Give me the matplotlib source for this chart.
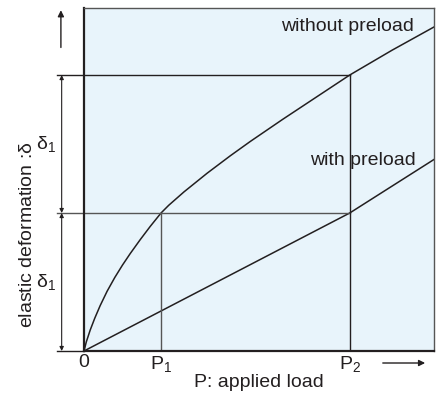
import numpy as np
import matplotlib
matplotlib.use('Agg')
import matplotlib.pyplot as plt

plt.rcParams['font.family'] = ['Liberation Sans', 'DejaVu Sans']
plt.rcParams['mathtext.fontset'] = 'custom'
plt.rcParams['mathtext.rm'] = 'Liberation Sans'
plt.rcParams['mathtext.it'] = 'Liberation Sans'

# load in units of P1, deformation in units of delta1
P1 = 1.0
P2 = 3.45
delta1 = 1.0

# deformation without preload (curved)
load_free = [0.0, 0.03, 0.08, 0.14, 0.21, 0.30, 0.40, 0.50, 0.60, 0.73, 0.86, 1.0,
             1.1, 1.3, 1.6, 1.9, 2.16, 2.58, 3.0, 3.45, 4.0, 4.55]
defl_free = [0.0, 0.066, 0.151, 0.238, 0.329, 0.433, 0.533, 0.623, 0.706, 0.807, 0.903, 1.0,
             1.056, 1.154, 1.289, 1.415, 1.519, 1.679, 1.834, 2.0, 2.18, 2.35]
# deformation with preload (straight up to P2, then steeper)
load_pre = [0.0, 3.45, 4.55]
defl_pre = [0.0, 1.0, 1.39]

x_ticks = [0.0, P1, P2]
x_ticklabels = ['0', r'$\mathrm{P_1}$', r'$\mathrm{P_2}$']

ink = '#231f20'
grey = '#555555'
fs = 14

fig = plt.figure(figsize=(4.43, 3.96), dpi=100)
ax = fig.add_axes([84/443, 45/396, 350/443, 343/396])
ax.set_facecolor('#e8f4fb')
ax.set_xlim(0, 4.545)
ax.set_ylim(0, 2.486)

for side in ['top', 'right']:
    ax.spines[side].set_color(grey)
    ax.spines[side].set_linewidth(1.0)
for side in ['left', 'bottom']:
    ax.spines[side].set_color(ink)
    ax.spines[side].set_linewidth(1.6)

ax.plot(load_free, defl_free, color=ink, lw=1.1)
ax.plot(load_pre, defl_pre, color=ink, lw=1.1)

# guide lines
ax.plot([-0.35, P2], [delta1, delta1], color=grey, lw=1.0, clip_on=False)
ax.plot([-0.35, P2], [2 * delta1, 2 * delta1], color=ink, lw=1.0, clip_on=False)
ax.plot([-0.35, 0], [0, 0], color=ink, lw=1.0, clip_on=False)
ax.plot([P1, P1], [0, delta1], color=grey, lw=1.0)
ax.plot([P2, P2], [0, 2 * delta1], color=ink, lw=1.0)

# dimension arrows on the left
xd = -0.29
for y0, y1 in [(0, delta1), (delta1, 2 * delta1)]:
    ax.annotate('', xy=(xd, y1), xytext=(xd, y0), annotation_clip=False,
                arrowprops=dict(arrowstyle='<|-|>', color=ink, lw=0.8,
                                mutation_scale=6, shrinkA=0, shrinkB=0))
    ax.text(xd - 0.08, (y0 + y1) / 2, r'$\mathrm{\delta_1}$', fontsize=fs,
            color=ink, ha='right', va='center')

# axis direction arrows
ax.annotate('', xy=(-0.3, 2.47), xytext=(-0.3, 2.2), annotation_clip=False,
            arrowprops=dict(arrowstyle='-|>', color=ink, lw=1.0,
                            mutation_scale=9, shrinkA=0, shrinkB=0))
ax.annotate('', xy=(4.43, -0.087), xytext=(3.88, -0.087), annotation_clip=False,
            arrowprops=dict(arrowstyle='-|>', color=ink, lw=1.0,
                            mutation_scale=9, shrinkA=0, shrinkB=0))

ax.set_xticks(x_ticks)
ax.set_xticklabels(x_ticklabels, fontsize=fs, color=ink)
ax.set_yticks([])
ax.tick_params(axis='x', length=0, pad=2)

ax.set_xlabel('P: applied load', fontsize=fs, color=ink, labelpad=0)
fig.text(28/443, 1 - 235/396, r'elastic deformation :$\mathrm{\delta}$',
         rotation=90, fontsize=fs, color=ink, ha='center', va='center')

ax.text(4.29, 2.35, 'without preload', fontsize=fs, color=ink, ha='right', va='center')
ax.text(4.31, 1.38, 'with preload', fontsize=fs, color=ink, ha='right', va='center')

fig.savefig('out.png', dpi=100)
